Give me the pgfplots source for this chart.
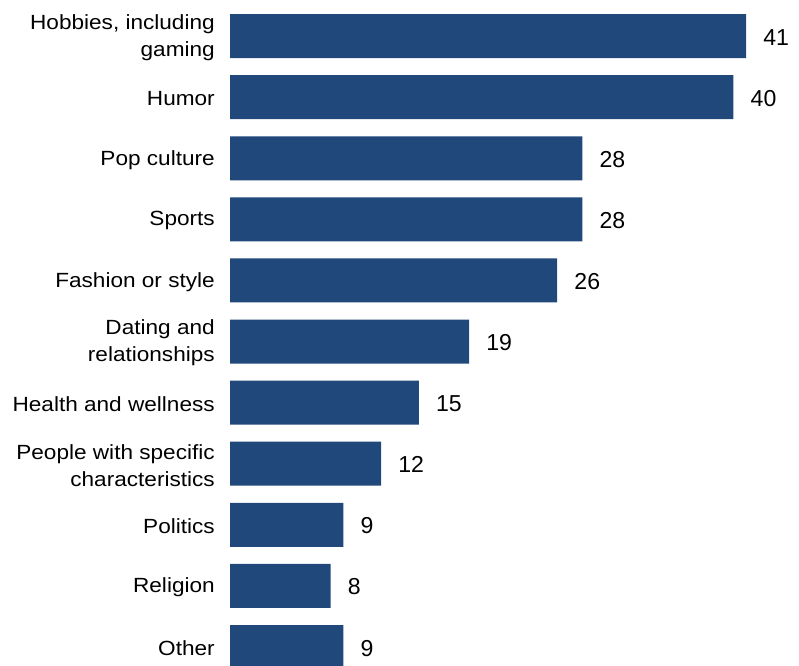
\documentclass[border=0pt]{standalone}
\usepackage{pgfplots}
\pgfplotsset{compat=1.18}
\usepackage{fontspec}
\setmainfont{Liberation Sans}
\newfontfamily\labfont[FakeStretch=1.1]{Liberation Sans}
\definecolor{barblue}{RGB}{33,72,123}
\begin{document}
\begin{tikzpicture}[x=1pt,y=1pt]
\clip (0,0) rectangle (599.25,498.75);
\useasboundingbox (0,0) rectangle (599.25,498.75);
\begin{axis}[
  at={(172.5pt,494.6pt)}, anchor=north west,
  scale only axis, width=387pt, height=504pt,
  xbar, bar width=33pt, bar shift=0pt,
  xmin=0, xmax=41,
  ymin=-0.5, ymax=10.5, y dir=reverse,
  axis line style={draw=none},
  xtick=\empty,
  ytick={0,...,10},
  yticklabels={{Hobbies, including\\gaming},Humor,Pop culture,Sports,Fashion or style,{Dating and\\relationships},Health and wellness,{People with specific\\characteristics},Politics,Religion,Other},
  major tick length=0pt,
  yticklabel style={anchor=east, align=right, inner sep=0pt, xshift=-11.25pt, yshift=-1.2pt, font=\labfont\fontsize{15.4}{20.2}\selectfont},
  nodes near coords,
  nodes near coords style={anchor=west, inner sep=0pt, xshift=12.75pt, yshift=-0.8pt, font=\fontsize{17.3}{20}\selectfont, text=black},
  point meta=explicit symbolic,
  clip=false,
]
\addplot[fill=barblue, draw=none] coordinates {
(41,0) [41] (40,1) [40] (28,2) [28] (28,3) [28] (26,4) [26] (19,5) [19] (15,6) [15] (12,7) [12] (9,8) [9] (8,9) [8] (9,10) [9]
};
\end{axis}
\end{tikzpicture}
\end{document}
